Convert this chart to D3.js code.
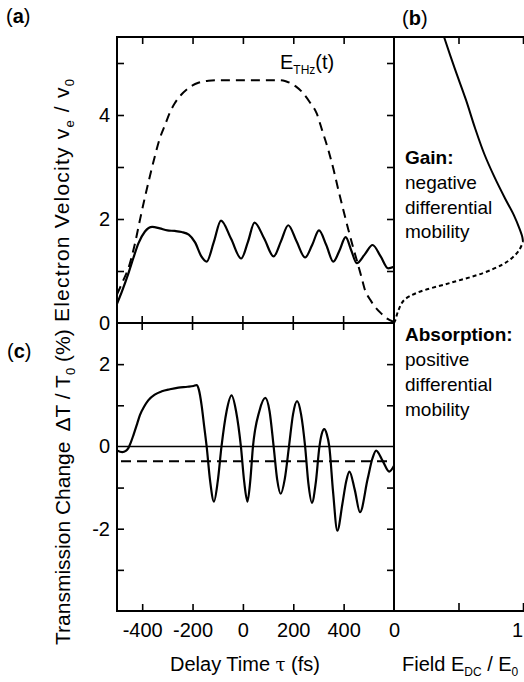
<!DOCTYPE html>
<html>
<head>
<meta charset="utf-8">
<script src="https://cdn.jsdelivr.net/npm/d3@7"></script>
<style>
  html, body { margin: 0; padding: 0; background: #fff; }
  svg { display: block; font-family: "Liberation Sans", Arial, sans-serif; }
</style>
</head>
<body>
<svg id="fig" width="524" height="682"></svg>
<script>
// Tick values and labels
const delayTicks = [-400, -200, 0, 200, 400];
const velocityTicks = [1, 2, 3, 4, 5];
const velocityLabels = [0, 2, 4];
const transTicks = [-3, -2, -1, 1, 2];
const transLabels = [-2, 0, 2];
const fieldTicks = [0.5, 1];
const fieldLabels = [0, 1];

// (a) electron velocity v_e / v_0 vs delay time (fs)
const velocity = [
  [-500, 0.37], [-481, 0.60], [-455, 0.95], [-435, 1.25], [-415, 1.53], [-389, 1.76],
  [-360, 1.85], [-330, 1.82], [-300, 1.78], [-270, 1.77], [-243, 1.75], [-215, 1.70],
  [-190, 1.55], [-165, 1.28], [-144, 1.18], [-116, 1.55], [-87, 1.97], [-47, 1.62],
  [-7, 1.24], [20, 1.56], [46, 1.93], [85, 1.62], [122, 1.28], [151, 1.57],
  [180, 1.88], [213, 1.57], [247, 1.26], [275, 1.50], [302, 1.78], [331, 1.50],
  [359, 1.18], [384, 1.40], [408, 1.65], [430, 1.40], [452, 1.15], [484, 1.32],
  [515, 1.50], [547, 1.28], [577, 1.05], [600, 1.08]
];

// (a) THz field envelope E_THz(t), same vertical units
const thzField = [
  [-500, 0.55], [-477, 0.80], [-455, 1.05], [-430, 1.50], [-409, 1.98], [-390, 2.40],
  [-376, 2.69], [-349, 3.22], [-330, 3.55], [-309, 3.81], [-290, 4.05], [-270, 4.23],
  [-245, 4.39], [-223, 4.49], [-200, 4.57], [-177, 4.62], [-137, 4.66], [-100, 4.67],
  [0, 4.67], [100, 4.67], [147, 4.67], [170, 4.65], [186, 4.62], [210, 4.55],
  [239, 4.42], [265, 4.25], [293, 4.03], [315, 3.70], [339, 3.33], [360, 2.95],
  [379, 2.56], [400, 2.15], [419, 1.79], [435, 1.50], [452, 1.21], [470, 0.90],
  [485, 0.63], [505, 0.45], [525, 0.31], [550, 0.18], [571, 0.09], [600, 0.02]
];

// (c) transmission change dT/T0 (%) vs delay time (fs)
const transmission = [
  [-500, -0.10], [-479, -0.14], [-465, -0.11], [-455, -0.04], [-445, 0.10], [-435, 0.27],
  [-420, 0.55], [-409, 0.76], [-392, 0.97], [-376, 1.12], [-350, 1.26], [-322, 1.34],
  [-290, 1.39], [-256, 1.43], [-220, 1.45], [-196, 1.47], [-184, 1.49], [-175, 1.38],
  [-164, 1.00], [-154, 0.50], [-144, 0.00], [-130, -0.85], [-115, -1.34], [-100, -0.85],
  [-85, 0.00], [-65, 0.85], [-45, 1.24], [-27, 0.85], [-8, 0.00], [5, -0.85],
  [18, -1.34], [29, -0.85], [40, 0.00], [65, 0.85], [89, 1.18], [106, 0.85],
  [122, 0.00], [136, -0.80], [150, -1.15], [166, -0.80], [183, 0.00], [199, 0.78],
  [215, 1.10], [231, 0.78], [247, 0.00], [260, -0.90], [274, -1.37], [289, -0.90],
  [304, 0.00], [313, 0.30], [323, 0.42], [333, 0.30], [343, 0.00], [358, -1.10],
  [375, -2.05], [395, -1.40], [410, -0.85], [423, -0.61], [444, -1.05], [465, -1.60],
  [495, -0.80], [514, -0.30], [529, -0.10], [555, -0.35], [581, -0.61], [600, -0.47]
];
const transBaseline = -0.36;

// (b) velocity-field characteristic: [field E_DC/E_0, velocity]
const vfRising = [
  [0, 0], [0.008, 0.04], [0.035, 0.25], [0.078, 0.44], [0.178, 0.58], [0.434, 0.77],
  [0.69, 0.96], [0.845, 1.13], [0.915, 1.25], [0.97, 1.40], [1.0, 1.56]
];
const vfFalling = [
  [1.0, 1.56], [0.995, 1.65], [0.975, 1.80], [0.93, 2.07], [0.86, 2.40], [0.78, 2.80],
  [0.70, 3.25], [0.628, 3.75], [0.558, 4.29], [0.47, 4.90], [0.388, 5.5]
];

const svg = d3.select("#fig");

const xLeft = 117, xMid = 394, xRight = 524, yTop = 37, ySplit = 323, yBottom = 611;

const x = d3.scaleLinear([-500, 600], [xLeft, xMid]);
const ya = d3.scaleLinear([0, 5.5], [ySplit, yTop]);
const yc = d3.scaleLinear([-4, 3], [yBottom, ySplit]);
const xb = d3.scaleLinear([0, 1], [xMid, 523]);

const FONT = 20;
const ink = "#000";

// ---------- frame ----------
const frame = svg.append("g").attr("stroke", ink).attr("stroke-width", 2).attr("fill", "none");
frame.append("line").attr("x1", xLeft).attr("x2", xLeft).attr("y1", yTop).attr("y2", yBottom);
frame.append("line").attr("x1", xMid).attr("x2", xMid).attr("y1", yTop).attr("y2", yBottom);
frame.append("line").attr("x1", xLeft - 1).attr("x2", xRight).attr("y1", yTop).attr("y2", yTop);
frame.append("line").attr("x1", xLeft - 1).attr("x2", xMid).attr("y1", ySplit).attr("y2", ySplit);
frame.append("line").attr("x1", xLeft - 1).attr("x2", xRight).attr("y1", yBottom).attr("y2", yBottom);

function styleAxis(g) {
  g.select(".domain").remove();
  g.selectAll(".tick line").attr("stroke", ink).attr("stroke-width", 1.6);
  g.selectAll(".tick text").attr("fill", ink).attr("font-size", FONT).attr("font-family", "Liberation Sans, Arial, sans-serif");
}

// delay axis: top of (a), bottom of (c)
svg.append("g").attr("transform", `translate(0,${yTop})`)
  .call(d3.axisTop(x).tickValues(delayTicks).tickSizeInner(-7).tickSizeOuter(0).tickFormat(""))
  .call(styleAxis);
svg.append("g").attr("transform", `translate(0,${yBottom})`)
  .call(d3.axisBottom(x).tickValues(delayTicks).tickSizeInner(-7).tickSizeOuter(0).tickPadding(12).tickFormat(d => String(d)))
  .call(styleAxis);
// ticks crossing the shared (a)/(c) boundary
svg.append("g").selectAll("line").data(delayTicks).join("line")
  .attr("x1", d => x(d)).attr("x2", d => x(d))
  .attr("y1", ySplit - 7).attr("y2", ySplit + 7)
  .attr("stroke", ink).attr("stroke-width", 1.6);

// velocity axis (a)
svg.append("g").attr("transform", `translate(${xLeft},0)`)
  .call(d3.axisLeft(ya).tickValues(velocityTicks).tickSizeInner(-7).tickSizeOuter(0).tickFormat(""))
  .call(styleAxis);
svg.append("g").attr("transform", `translate(${xLeft},0)`)
  .call(d3.axisLeft(ya).tickValues(velocityLabels).tickSize(0).tickPadding(7).tickFormat(d => String(d)))
  .call(styleAxis);
svg.append("g").attr("transform", `translate(${xMid},0)`)
  .call(d3.axisRight(ya).tickValues(velocityTicks).tickSizeInner(-7).tickSizeOuter(0).tickFormat(""))
  .call(styleAxis);

// transmission axis (c)
svg.append("g").attr("transform", `translate(${xLeft},0)`)
  .call(d3.axisLeft(yc).tickValues(transTicks).tickSizeInner(-7).tickSizeOuter(0).tickFormat(""))
  .call(styleAxis);
svg.append("g").attr("transform", `translate(${xLeft},0)`)
  .call(d3.axisLeft(yc).tickValues(transLabels).tickSize(0).tickPadding(7).tickFormat(d => String(d)))
  .call(styleAxis);
svg.append("g").attr("transform", `translate(${xMid},0)`)
  .call(d3.axisRight(yc).tickValues(transTicks).tickSizeInner(-7).tickSizeOuter(0).tickFormat(""))
  .call(styleAxis);

// field axis (b)
svg.append("g").attr("transform", `translate(0,${yTop})`)
  .call(d3.axisTop(xb).tickValues(fieldTicks).tickSizeInner(-7).tickSizeOuter(0).tickFormat(""))
  .call(styleAxis);
svg.append("g").attr("transform", `translate(0,${yBottom - 1})`)
  .call(d3.axisBottom(xb).tickValues(fieldTicks).tickSizeInner(-7).tickSizeOuter(0).tickFormat(""))
  .call(styleAxis);
svg.append("g").attr("transform", `translate(0,${yBottom})`)
  .call(d3.axisBottom(xb).tickValues(fieldLabels).tickSize(0).tickPadding(12).tickFormat(d => String(d)))
  .call(styleAxis)
  .call(g => g.selectAll(".tick text").filter(d => d === 1).attr("dx", -6));

// ---------- curves ----------
const lineA = d3.line().x(d => x(d[0])).y(d => ya(d[1])).curve(d3.curveMonotoneX);
const lineC = d3.line().x(d => x(d[0])).y(d => yc(d[1])).curve(d3.curveMonotoneX);
const lineB = d3.line().x(d => xb(d[0])).y(d => ya(d[1])).curve(d3.curveCatmullRom.alpha(0.5));

svg.append("path").datum(thzField).attr("d", lineA)
  .attr("fill", "none").attr("stroke", ink).attr("stroke-width", 2).attr("stroke-dasharray", "9,6");
svg.append("path").datum(velocity).attr("d", lineA)
  .attr("fill", "none").attr("stroke", ink).attr("stroke-width", 2.2);

svg.append("line").attr("x1", x(-500)).attr("x2", x(600)).attr("y1", yc(0)).attr("y2", yc(0))
  .attr("stroke", ink).attr("stroke-width", 1.5);
svg.append("line").attr("x1", x(-500)).attr("x2", x(600)).attr("y1", yc(transBaseline)).attr("y2", yc(transBaseline))
  .attr("stroke", ink).attr("stroke-width", 2).attr("stroke-dasharray", "10,6").attr("stroke-dashoffset", -4);
svg.append("path").datum(transmission).attr("d", lineC)
  .attr("fill", "none").attr("stroke", ink).attr("stroke-width", 2.2);

svg.append("path").datum(vfRising).attr("d", lineB)
  .attr("fill", "none").attr("stroke", ink).attr("stroke-width", 2).attr("stroke-dasharray", "4,3");
svg.append("path").datum(vfFalling).attr("d", lineB)
  .attr("fill", "none").attr("stroke", ink).attr("stroke-width", 2);

// ---------- text ----------
const txt = svg.append("g").attr("fill", ink).attr("font-size", FONT);

function panelTag(px, py, letter) {
  const t = txt.append("text").attr("x", px).attr("y", py);
  t.append("tspan").text("(");
  t.append("tspan").attr("font-weight", "bold").text(letter);
  t.append("tspan").text(")");
}
panelTag(6, 23, "a");
panelTag(402, 25, "b");
panelTag(7, 358, "c");

// E_THz(t)
{
  const t = txt.append("text").attr("x", 280).attr("y", 69);
  t.append("tspan").text("E");
  t.append("tspan").attr("font-size", 12).attr("dy", 5).text("THz");
  t.append("tspan").attr("dy", -5).text("(t)");
}

// annotations in (b)
const gain = ["negative", "differential", "mobility"];
txt.append("text").attr("x", 405).attr("y", 164).attr("font-size", 19).attr("font-weight", "bold").text("Gain:");
txt.selectAll(".gainline").data(gain).join("text").attr("class", "gainline")
  .attr("x", 405).attr("y", (d, i) => 189 + i * 24.7).attr("font-size", 19).text(d => d);
const absorb = ["positive", "differential", "mobility"];
txt.append("text").attr("x", 405).attr("y", 341).attr("font-size", 19).attr("font-weight", "bold").text("Absorption:");
txt.selectAll(".absline").data(absorb).join("text").attr("class", "absline")
  .attr("x", 405).attr("y", (d, i) => 366 + i * 25).attr("font-size", 19).text(d => d);

// axis titles
{
  const t = txt.append("text").attr("transform", "translate(69,322) rotate(-90)")
    .attr("font-size", 21).attr("letter-spacing", 1.2);
  t.append("tspan").text("Electron Velocity v");
  t.append("tspan").attr("font-size", 13).attr("dy", 5).text("e");
  t.append("tspan").attr("dy", -5).text(" / v");
  t.append("tspan").attr("font-size", 13).attr("dy", 5).text("0");
}
{
  const t = txt.append("text").attr("transform", "translate(70,645) rotate(-90)").attr("font-size", 21);
  t.append("tspan").text("Transmission Change");
  t.append("tspan").attr("dx", 10).text("\u0394T / T");
  t.append("tspan").attr("font-size", 13).attr("dy", 5).text("0");
  t.append("tspan").attr("dy", -5).text(" (%)");
}
{
  const t = txt.append("text").attr("x", 245).attr("y", 671).attr("text-anchor", "middle");
  t.append("tspan").text("Delay Time ");
  t.append("tspan").attr("font-family", "DejaVu Serif, serif").attr("font-size", 18).text("\u03C4");
  t.append("tspan").text(" (fs)");
}
{
  const t = txt.append("text").attr("x", 402).attr("y", 671);
  t.append("tspan").text("Field E");
  t.append("tspan").attr("font-size", 12).attr("dy", 5).text("DC");
  t.append("tspan").attr("dy", -5).text(" / E");
  t.append("tspan").attr("font-size", 12).attr("dy", 5).text("0");
}
</script>
</body>
</html>
